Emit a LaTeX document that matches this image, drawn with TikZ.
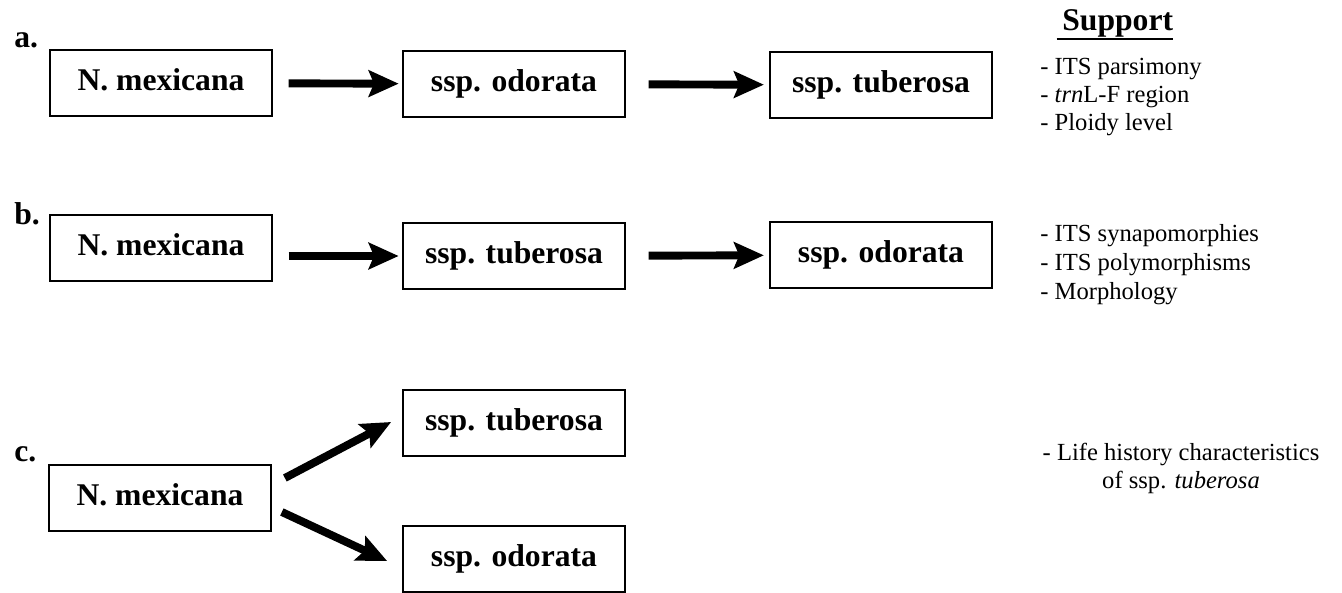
\documentclass[tikz,border=0pt]{standalone}
\usepackage{fontspec}
\setmainfont{Liberation Serif}
\usetikzlibrary{
  arrows.meta,
  calc
}
\tikzset{
  >={Stealth[length=17pt,width=15pt,inset=3pt]},
  taxon/.style={
    draw, line width=1pt,
    minimum width=4.44cm, minimum height=1.32cm, inner sep=0pt,
    text height=12pt, text depth=4pt,
    font=\fontsize{18}{20}\selectfont\bfseries
  },
  flow/.style={->, line width=4.5pt, shorten <=9pt, shorten >=2pt},
  panel/.style={anchor=base west, inner sep=0pt, font=\fontsize{18}{20}\selectfont\bfseries},
  support/.style={anchor=base west, inner sep=0pt, font=\fontsize{14}{16}\selectfont}
}

\begin{document}
\begin{tikzpicture}[x=0.02cm, y=-0.02cm]
\useasboundingbox (0,0) rectangle (1342,592);
% panel a
\node[panel] (lblA) at (14,47) {a.};
\node[taxon] (mexA) at (161,83) {N. mexicana};
\node[taxon] (odoA) at (514,84) {ssp. odorata};
\node[taxon] (tubA) at (881,85) {ssp. tuberosa};
\draw[flow] (mexA) -- (odoA);
\draw[flow, shorten <=13pt, shorten >=3pt] (odoA) -- (tubA);
% panel b
\node[panel] (lblB) at (14,224) {b.};
\node[taxon] (mexB) at (161,248) {N. mexicana};
\node[taxon] (tubB) at (514,256) {ssp. tuberosa};
\node[taxon] (odoB) at (881,255) {ssp. odorata};
\draw[flow] (mexB.east |- tubB) -- (tubB);
\draw[flow, shorten <=13pt, shorten >=3pt] (tubB) -- (odoB);
% panel c
\node[panel] (lblC) at (14,461) {c.};
\node[taxon] (mexC) at (160,498) {N. mexicana};
\node[taxon] (tubC) at (514,423) {ssp. tuberosa};
\node[taxon] (odoC) at (514,559) {ssp. odorata};
\draw[flow, shorten <=0pt, shorten >=0pt]
  ($(mexC.east)+(13,-20)$) -- ($(tubC.west)+(-11,-1)$);
\draw[flow, shorten <=0pt, shorten >=0pt]
  ($(mexC.east)+(10,14)$) -- ($(odoC.west)+(-15,2)$);
% support column
\node[anchor=base west, inner sep=0pt, font=\fontsize{18}{20}\selectfont\bfseries]
  (sup) at (1062,30) {Support};
\draw[line width=1.2pt] ([xshift=-3pt,yshift=-5pt]sup.base west)
  -- ([yshift=-5pt]sup.base east);
\foreach \txt/\yy [count=\i] in {%
  {- ITS parsimony}/74,
  {- \textit{trn}L-F region}/102,
  {- Ploidy level}/130%
} {
  \node[support] (supA\i) at (1040,\yy) {\txt};
}
\foreach \txt/\yy [count=\i] in {%
  {- ITS synapomorphies}/241,
  {- ITS polymorphisms}/270,
  {- Morphology}/299%
} {
  \node[support] (supB\i) at (1040,\yy) {\txt};
}
\node[support, anchor=base] (supC1) at (1181,460) {- Life history characteristics};
\node[support, anchor=base] (supC2) at (1181,488) {of ssp. \textit{tuberosa}};
\end{tikzpicture}
\end{document}
